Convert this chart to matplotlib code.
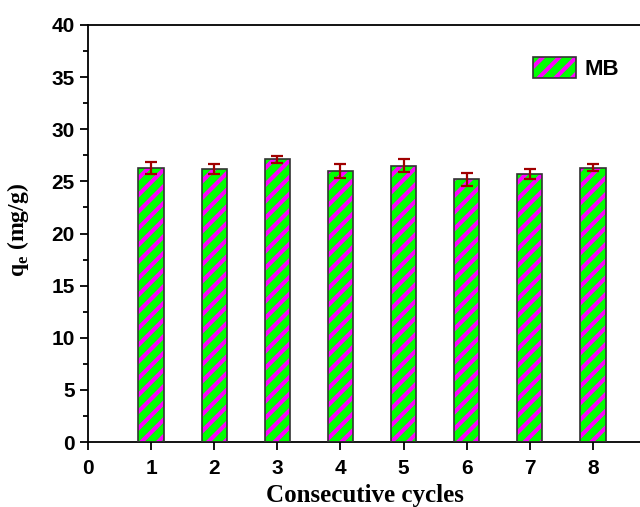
import numpy as np
import matplotlib
matplotlib.use("Agg")
import matplotlib.pyplot as plt
from matplotlib.ticker import MultipleLocator
from matplotlib.patches import Patch

# data
cycles = [1, 2, 3, 4, 5, 6, 7, 8]
qe = [26.3, 26.2, 27.1, 26.0, 26.5, 25.2, 25.7, 26.3]
qe_err = [0.6, 0.5, 0.35, 0.65, 0.6, 0.6, 0.45, 0.35]
series_name = "MB"

plt.rcParams["hatch.linewidth"] = 3.0

fig = plt.figure(figsize=(6.40, 5.07), dpi=100)
# axes runs past the right edge, like the cropped original
ax = fig.add_axes([88 / 640, 65 / 507, 568 / 640, 417 / 507])

bar_w = 0.4
# hatch layer (hatch colour follows edgecolor)
ax.bar(cycles, qe, width=bar_w, color="#00ff00", edgecolor="#ff00ff",
       hatch="//", linewidth=0, zorder=2)
# outline layer
ax.bar(cycles, qe, width=bar_w, fill=False, edgecolor="#333333",
       linewidth=1.2, zorder=3)
ax.errorbar(cycles, qe, yerr=qe_err, fmt="none", ecolor="#a00000",
            elinewidth=1.6, capsize=4, capthick=1.6, zorder=4)

# legend proxy
h = Patch(facecolor="#00ff00", edgecolor="#ff00ff", hatch="//", linewidth=0)
h2 = Patch(fill=False, edgecolor="#333333", linewidth=1.2)
leg = fig.legend([(h, h2)], [series_name], loc="upper left",
                 bbox_to_anchor=(533 / 640, 1 - 57 / 507), frameon=False,
                 borderpad=0, borderaxespad=0,
                 handlelength=1.95, handleheight=1.05, handletextpad=0.35,
                 prop={"family": "Liberation Sans", "weight": "bold", "size": 16})

ax.set_xlim(0, 9)
ax.set_ylim(0, 40)
ax.yaxis.set_major_locator(MultipleLocator(5))
ax.yaxis.set_minor_locator(MultipleLocator(2.5))
ax.set_xticks(range(0, 9))
ax.tick_params(axis="both", which="major", direction="out", length=6, width=1.3,
               labelsize=15)
ax.tick_params(axis="x", which="major", pad=6.5)
ax.tick_params(axis="y", which="minor", direction="out", length=3.5, width=1.3)
ax.tick_params(top=False, right=False)
for lab in ax.get_xticklabels() + ax.get_yticklabels():
    lab.set_fontfamily("Liberation Sans")
    lab.set_fontweight("bold")
for s in ax.spines.values():
    s.set_linewidth(1.3)

ax.set_xlabel("Consecutive cycles", fontfamily="Liberation Serif",
              fontweight="bold", fontsize=18)
ax.xaxis.set_label_coords((365 - 88) / 568, -(502 - 442) / 417)
ax.xaxis.label.set_va("baseline")
ax.set_ylabel(r"q$_\mathregular{e}$ (mg/g)", fontfamily="Liberation Serif",
              fontweight="bold", fontsize=17)
ax.yaxis.set_label_coords(-(88 - 31) / 568, (442 - 230) / 417)

fig.savefig("out.png", dpi=100)
